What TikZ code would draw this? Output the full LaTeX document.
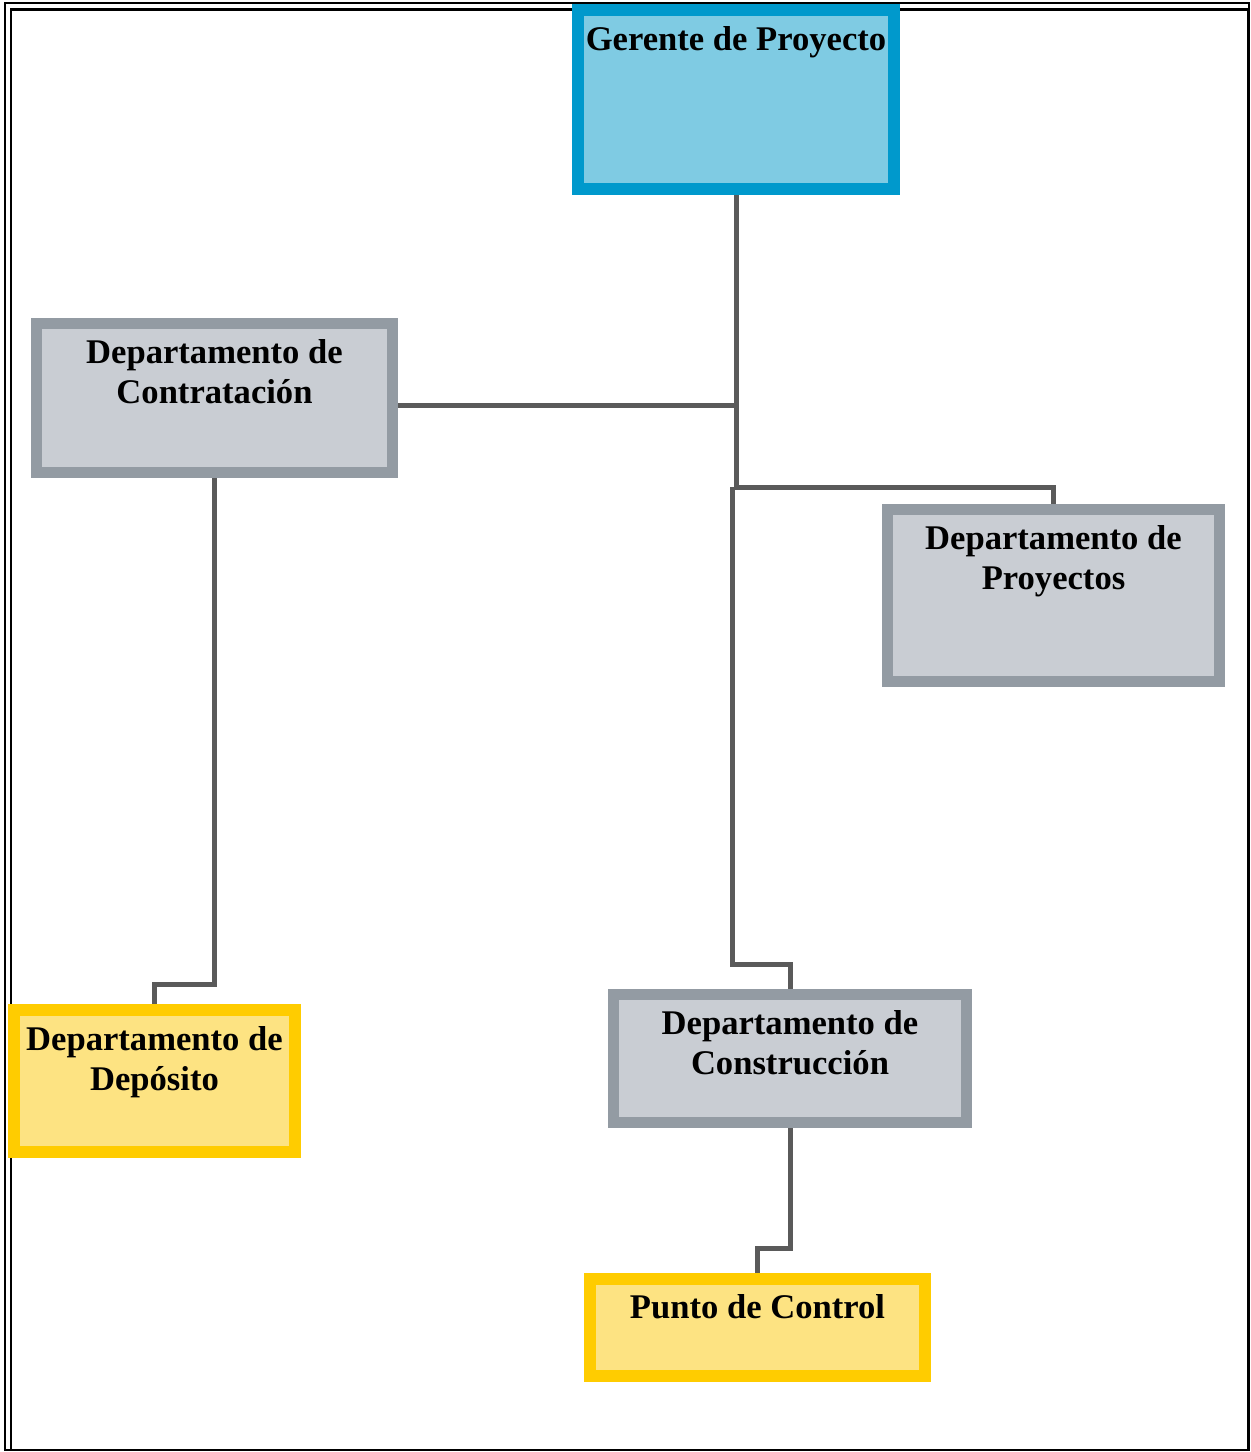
\documentclass[tikz,border=0pt]{standalone}
\usepackage{fontspec}
\setmainfont{Liberation Serif}
\usetikzlibrary{positioning}
\definecolor{azulborde}{HTML}{0099CC}
\definecolor{azulfondo}{HTML}{7FCBE3}
\definecolor{grisborde}{HTML}{939BA3}
\definecolor{grisfondo}{HTML}{C9CDD3}
\definecolor{amarilloborde}{HTML}{FFCC00}
\definecolor{amarillofondo}{HTML}{FDE382}
\definecolor{gristrazo}{HTML}{5A5A5A}
\tikzset{
	caja/.style={draw, line join=miter, inner sep=0pt},
	jefe/.style={caja, draw=azulborde, fill=azulfondo, line width=6pt},
	depto/.style={caja, draw=grisborde, fill=grisfondo, line width=5.5pt},
	puesto/.style={caja, draw=amarilloborde, fill=amarillofondo, line width=6pt},
	rotulo/.style={anchor=north, align=center, inner sep=0pt, font=\bfseries\fontsize{17.3}{20}\selectfont},
	conector/.style={draw=gristrazo, line width=2.5pt, line join=miter}
}
\begin{document}
\begin{tikzpicture}[x=0.5pt, y=-0.5pt]
	\useasboundingbox (0,0) rectangle (1251,1452);
	\draw[line width=1pt] (5,3) rectangle (1249,1450);
	\draw[line width=1.4pt] (11,9.5) rectangle (1248,1450);
	\node[jefe, minimum width=158pt, minimum height=89.5pt] (gerente) at (736,99.5) {};
	\node[depto, minimum width=178pt, minimum height=74.5pt] (contratacion) at (214.5,398) {};
	\node[depto, minimum width=166pt, minimum height=86pt] (proyectos) at (1053.5,595.5) {};
	\node[puesto, minimum width=140.5pt, minimum height=71pt] (deposito) at (154.5,1081) {};
	\node[depto, minimum width=176.5pt, minimum height=64pt] (construccion) at (790,1058.5) {};
	\node[puesto, minimum width=167.5pt, minimum height=48.5pt] (punto) at (757.5,1327.5) {};
	\node[rotulo] (tgerente) at (736,26) {Gerente de Proyecto};
	\node[rotulo] (tcontratacion) at (214.5,339) {Departamento de\\Contratación};
	\node[rotulo] (tproyectos) at (1053.5,525) {Departamento de\\Proyectos};
	\node[rotulo] (tdeposito) at (154.5,1026) {Departamento de\\Depósito};
	\node[rotulo] (tconstruccion) at (790,1010) {Departamento de\\Construcción};
	\node[rotulo] (tpunto) at (757.5,1294) {Punto de Control};
	\coordinate (union) at (736,487);
	\draw[conector] (gerente.south) -- (union) -| (proyectos.north);
	\draw[conector] ([yshift=-3.5pt]contratacion.east) -- ([yshift=-3.5pt]contratacion.east -| union);
	\draw[conector] ([xshift=-2pt]union) -- ++(0,477) -| (construccion.north);
	\draw[conector] (contratacion.south) -- ++(0,506) -| (deposito.north);
	\draw[conector] (construccion.south) -- ++(0,120) -| (punto.north);
\end{tikzpicture}
\end{document}
